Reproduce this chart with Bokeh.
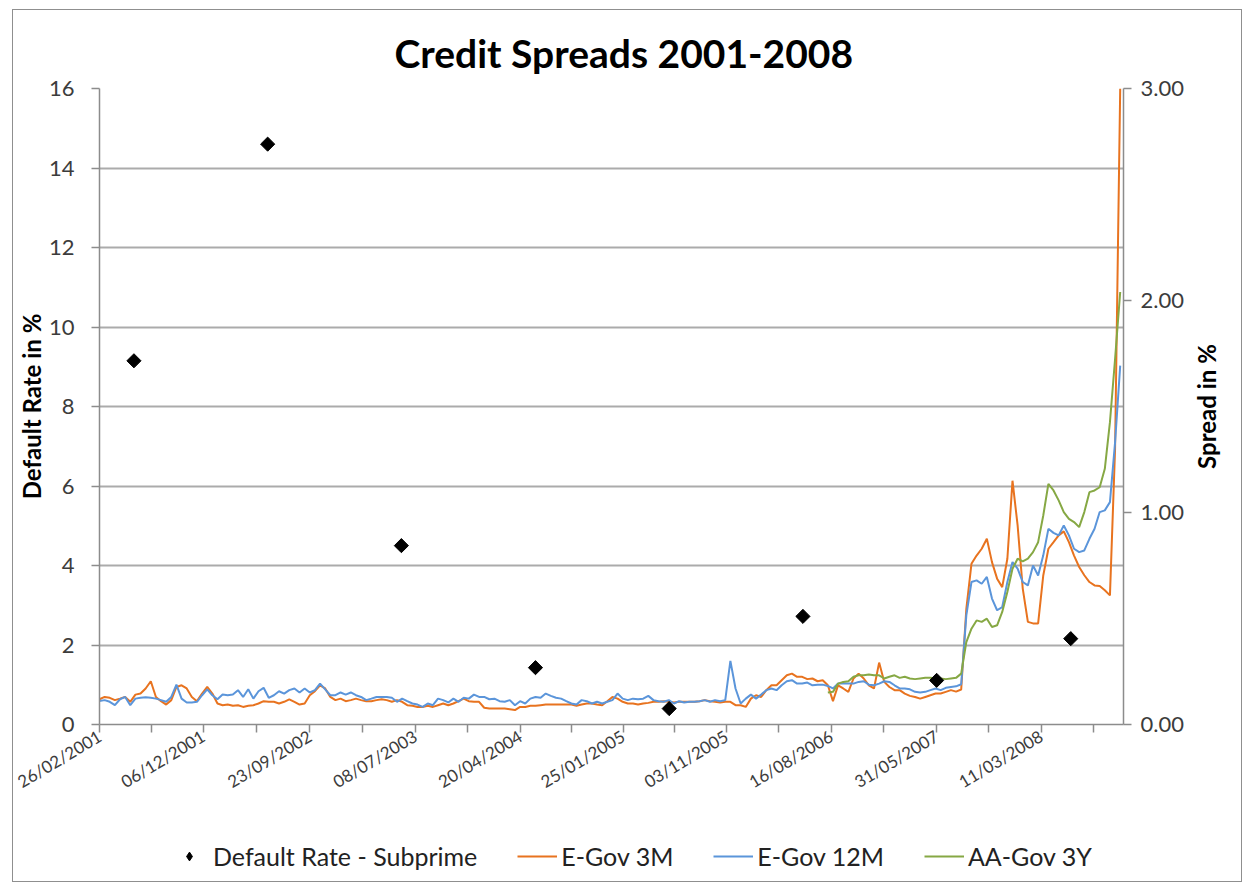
import math
import pandas as pd
from bokeh.plotting import figure
from bokeh.layouts import column, row
from bokeh.models import (Range1d, LinearAxis, FixedTicker, DatetimeTickFormatter,
                          PrintfTickFormatter, Legend, LegendItem, Label)
from bokeh.embed import file_html
from bokeh.resources import INLINE

FONT = "Lato"

# ---- data -------------------------------------------------------------
x_tick_labels = ["26/02/2001", "06/12/2001", "23/09/2002", "08/07/2003", "20/04/2004",
                 "25/01/2005", "03/11/2005", "16/08/2006", "31/05/2007", "11/03/2008"]

default_dates = ["2001-05-31", "2002-05-31", "2003-05-31", "2004-05-31",
                 "2005-05-31", "2006-05-31", "2007-05-31", "2008-05-31"]
default_rate = [9.15, 14.6, 4.50, 1.43, 0.40, 2.72, 1.11, 2.16]

# fortnightly spread observations (%)
spread_start = "2001-02-26"
e_gov_3m = [
    0.119, 0.130, 0.126, 0.115, 0.122, 0.130, 0.107, 0.141, 0.146, 0.170,
    0.204, 0.130, 0.110, 0.094, 0.115, 0.177, 0.185, 0.170, 0.130, 0.110,
    0.146, 0.177, 0.146, 0.099, 0.091, 0.094, 0.088, 0.091, 0.083, 0.088,
    0.091, 0.099, 0.110, 0.107, 0.107, 0.099, 0.107, 0.119, 0.107, 0.094,
    0.099, 0.138, 0.157, 0.185, 0.170, 0.130, 0.115, 0.122, 0.110, 0.115,
    0.122, 0.115, 0.110, 0.110, 0.115, 0.119, 0.115, 0.107, 0.115, 0.107,
    0.091, 0.088, 0.083, 0.083, 0.088, 0.083, 0.091, 0.099, 0.091, 0.099,
    0.110, 0.122, 0.110, 0.107, 0.107, 0.079, 0.075, 0.075, 0.075, 0.075,
    0.072, 0.068, 0.083, 0.083, 0.088, 0.088, 0.091, 0.094, 0.094, 0.094,
    0.094, 0.094, 0.094, 0.088, 0.094, 0.099, 0.099, 0.094, 0.091, 0.110,
    0.130, 0.122, 0.107, 0.099, 0.099, 0.094, 0.099, 0.102, 0.107, 0.107,
    0.110, 0.107, 0.104, 0.107, 0.107, 0.107, 0.107, 0.110, 0.115, 0.110,
    0.107, 0.104, 0.107, 0.107, 0.091, 0.091, 0.083, 0.122, 0.138, 0.130,
    0.162, 0.185, 0.185, 0.209, 0.232, 0.240, 0.225, 0.225, 0.214, 0.217,
    0.204, 0.209, 0.185, 0.110, 0.185, 0.170, 0.154, 0.217, 0.240, 0.217,
    0.185, 0.170, 0.292, 0.201, 0.177, 0.162, 0.162, 0.146, 0.135, 0.130,
    0.122, 0.130, 0.138, 0.146, 0.146, 0.154, 0.162, 0.155, 0.165, 0.546,
    0.758, 0.797, 0.829, 0.876, 0.766, 0.688, 0.648, 0.782, 1.150, 0.939,
    0.641, 0.484, 0.477, 0.477, 0.703, 0.829, 0.860, 0.892, 0.911, 0.860,
    0.797, 0.743, 0.704, 0.672, 0.656, 0.653, 0.633, 0.609, 1.300, 3.000,
]
e_gov_12m = [
    0.111, 0.115, 0.107, 0.091, 0.119, 0.130, 0.091, 0.122, 0.126, 0.129,
    0.126, 0.122, 0.115, 0.107, 0.130, 0.188, 0.122, 0.104, 0.104, 0.107,
    0.138, 0.166, 0.138, 0.119, 0.141, 0.138, 0.141, 0.162, 0.130, 0.166,
    0.122, 0.157, 0.173, 0.126, 0.138, 0.157, 0.146, 0.162, 0.170, 0.151,
    0.170, 0.151, 0.162, 0.193, 0.166, 0.138, 0.138, 0.151, 0.141, 0.151,
    0.138, 0.130, 0.115, 0.122, 0.130, 0.130, 0.130, 0.126, 0.107, 0.122,
    0.110, 0.099, 0.094, 0.083, 0.099, 0.091, 0.122, 0.115, 0.104, 0.122,
    0.107, 0.126, 0.122, 0.141, 0.130, 0.130, 0.119, 0.122, 0.110, 0.107,
    0.115, 0.091, 0.110, 0.099, 0.122, 0.130, 0.126, 0.146, 0.135, 0.126,
    0.122, 0.110, 0.099, 0.094, 0.115, 0.110, 0.099, 0.107, 0.099, 0.107,
    0.115, 0.146, 0.122, 0.115, 0.122, 0.119, 0.122, 0.135, 0.115, 0.110,
    0.107, 0.115, 0.099, 0.110, 0.104, 0.107, 0.107, 0.110, 0.115, 0.107,
    0.115, 0.110, 0.115, 0.300, 0.170, 0.099, 0.122, 0.141, 0.122, 0.141,
    0.162, 0.170, 0.162, 0.185, 0.204, 0.209, 0.193, 0.193, 0.198, 0.185,
    0.188, 0.188, 0.182, 0.170, 0.193, 0.193, 0.193, 0.193, 0.201, 0.204,
    0.188, 0.185, 0.193, 0.204, 0.201, 0.185, 0.170, 0.170, 0.166, 0.154,
    0.151, 0.154, 0.162, 0.170, 0.162, 0.173, 0.177, 0.180, 0.190, 0.515,
    0.672, 0.680, 0.664, 0.696, 0.594, 0.539, 0.554, 0.672, 0.766, 0.735,
    0.672, 0.656, 0.750, 0.703, 0.798, 0.923, 0.904, 0.892, 0.939, 0.892,
    0.829, 0.813, 0.821, 0.876, 0.923, 1.002, 1.010, 1.049, 1.331, 1.693,
]
aa_start = "2006-08-07"
aa_gov_3y = [
    0.151, 0.154, 0.193, 0.201, 0.204, 0.225, 0.232, 0.232,
    0.236, 0.232, 0.232, 0.217, 0.225, 0.232, 0.220, 0.225, 0.217, 0.214,
    0.217, 0.220, 0.220, 0.217, 0.217, 0.214, 0.217, 0.220, 0.240, 0.389,
    0.452, 0.491, 0.484, 0.499, 0.460, 0.468, 0.531, 0.625, 0.735, 0.782,
    0.769, 0.782, 0.813, 0.860, 0.986, 1.135, 1.104, 1.057, 1.002, 0.970,
    0.955, 0.931, 1.002, 1.096, 1.104, 1.119, 1.206, 1.426, 1.724, 2.040,
]

# ---- styling ----------------------------------------------------------
ORANGE = "#E8731F"
BLUE = "#5B95DA"
GREEN = "#86A844"
AXIS_GREY = "#8C8C8C"
GRID_GREY = "#ABABAB"
TICK_TEXT = "#3C3C3C"

spread_dates = pd.date_range(spread_start, periods=len(e_gov_3m), freq="14D")
aa_dates = pd.date_range(aa_start, periods=len(aa_gov_3y), freq="14D")
rate_dates = pd.to_datetime(default_dates)

label_dates = pd.to_datetime(x_tick_labels, format="%d/%m/%Y")
major_ms = [d.timestamp() * 1000 for d in label_dates]
step_ms = (major_ms[-1] - major_ms[0]) / (len(major_ms) - 1)
minor_ms = [(a + b) / 2 for a, b in zip(major_ms[:-1], major_ms[1:])] + [major_ms[-1] + step_ms / 2]

FRAME_W, FRAME_H = 1024, 636
BORDER_L, BORDER_T, BORDER_B = 80, 78, 100
SIDE_W = 54                     # strip holding the right-hand title
BORDER_R = 118 - SIDE_W

p = figure(width=None, height=None, frame_width=FRAME_W, frame_height=FRAME_H,
           x_axis_type="datetime",
           x_range=Range1d(pd.Timestamp("2001-02-26"), pd.Timestamp("2008-10-22")),
           y_range=Range1d(0, 16),
           output_backend="svg", toolbar_location=None,
           min_border_left=BORDER_L, min_border_right=BORDER_R,
           min_border_top=BORDER_T, min_border_bottom=BORDER_B)
p.outline_line_color = None
p.background_fill_color = "white"
p.border_fill_color = "white"

p.title.text = "Credit Spreads 2001-2008"
p.title.text_font = FONT
p.title.text_font_size = "39px"
p.title.text_font_style = "bold"
p.title.text_color = "#000000"
p.title.align = "left"
p.title.offset = 295
p.title.standoff = 25

p.extra_y_ranges = {"spread": Range1d(0, 3)}

# grid
p.xgrid.visible = False
p.ygrid.grid_line_color = GRID_GREY
p.ygrid.grid_line_width = 2

# left axis
ly = p.yaxis[0]
ly.ticker = FixedTicker(ticks=list(range(0, 17, 2)))
ly.axis_label = "Default Rate in %"

# right axis
ry = LinearAxis(y_range_name="spread", ticker=FixedTicker(ticks=[0, 1, 2, 3]),
                formatter=PrintfTickFormatter(format="%.2f"))
p.add_layout(ry, "right")

# bottom axis
bx = p.xaxis[0]
bx.ticker = FixedTicker(ticks=major_ms, minor_ticks=minor_ms)
bx.formatter = DatetimeTickFormatter(days="%d/%m/%Y", months="%d/%m/%Y", years="%d/%m/%Y")
bx.major_label_orientation = math.radians(31)

for ax in [ly, ry, bx]:
    ax.axis_line_color = AXIS_GREY
    ax.axis_line_width = 1.5
    ax.major_tick_line_color = AXIS_GREY
    ax.major_tick_line_width = 1.5
    ax.minor_tick_line_color = None
    ax.major_tick_in = 0
    ax.major_tick_out = 8
    ax.major_label_text_font = FONT
    ax.major_label_text_color = TICK_TEXT
    ax.axis_label_text_font = FONT
    ax.axis_label_text_font_style = "bold"
    ax.axis_label_text_color = "#000000"
    ax.axis_label_text_font_size = "24px"

bx.minor_tick_line_color = AXIS_GREY
bx.minor_tick_line_width = 1.5
bx.minor_tick_in = 0
bx.minor_tick_out = 8
bx.major_label_text_font_size = "17px"
bx.major_label_standoff = 2

ly.major_label_text_font_size = "22px"
ly.major_label_standoff = 17
ly.axis_label_standoff = 0

ry.major_label_text_font_size = "22px"
ry.major_label_standoff = 9

# series
r3m = p.line(spread_dates, e_gov_3m, y_range_name="spread", line_color=ORANGE, line_width=2)
r12m = p.line(spread_dates, e_gov_12m, y_range_name="spread", line_color=BLUE, line_width=2)
raa = p.line(aa_dates, aa_gov_3y, y_range_name="spread", line_color=GREEN, line_width=2)
rdef = p.scatter(rate_dates, default_rate, marker="square", angle=math.pi / 4,
                 size=10, color="#000000")


def blank_strip(**kw):
    f = figure(x_axis_type=None, y_axis_type=None,
               x_range=Range1d(0, 1), y_range=Range1d(0, 1),
               output_backend="svg", toolbar_location=None, **kw)
    f.outline_line_color = None
    f.xgrid.visible = False
    f.ygrid.visible = False
    f.background_fill_color = "white"
    f.border_fill_color = "white"
    return f


# ---- right-hand title strip (text reads bottom to top) ---------------
rf = blank_strip(width=SIDE_W, height=BORDER_T + FRAME_H + BORDER_B,
                 min_border_left=0, min_border_right=0,
                 min_border_top=BORDER_T, min_border_bottom=BORDER_B)
rf.add_layout(Label(x=0.35, y=0.5, text="Spread in %", angle=math.pi / 2,
                    text_align="center", text_baseline="middle",
                    text_font=FONT, text_font_size="24px", text_font_style="bold",
                    text_color="#000000"))

# ---- legend strip under the chart ------------------------------------
lf = blank_strip(width=None, height=None, frame_width=FRAME_W, frame_height=57,
                 min_border_left=BORDER_L, min_border_right=118,
                 min_border_top=0, min_border_bottom=0)

# key glyphs sit outside the strip's ranges, only their legend swatches show
k_def = lf.scatter([-5], [-5], marker="diamond", size=15, color="#000000")
k_3m = lf.line([-5, -4], [-5, -5], line_color=ORANGE, line_width=2)
k_12m = lf.line([-5, -4], [-5, -5], line_color=BLUE, line_width=2)
k_aa = lf.line([-5, -4], [-5, -5], line_color=GREEN, line_width=2)

legend = Legend(items=[
    LegendItem(label="Default Rate - Subprime", renderers=[k_def]),
    LegendItem(label="E-Gov 3M", renderers=[k_3m]),
    LegendItem(label="E-Gov 12M", renderers=[k_12m]),
    LegendItem(label="AA-Gov 3Y", renderers=[k_aa]),
], orientation="horizontal", location=(76, 10))
legend.label_text_font = FONT
legend.label_text_font_size = "25px"
legend.label_text_color = "#222222"
legend.glyph_width = 40
legend.glyph_height = 22
legend.label_standoff = 4
legend.spacing = 40
legend.padding = 0
legend.border_line_color = None
legend.background_fill_alpha = 0
legend.margin = 0
lf.add_layout(legend)

page = column(row(p, rf, spacing=0), lf, spacing=0)
page.margin = (9, 0, 0, 12)
page.styles = {"border": "1.5px solid #8F8F8F"}

open("out.html", "w").write(file_html(page, INLINE))
